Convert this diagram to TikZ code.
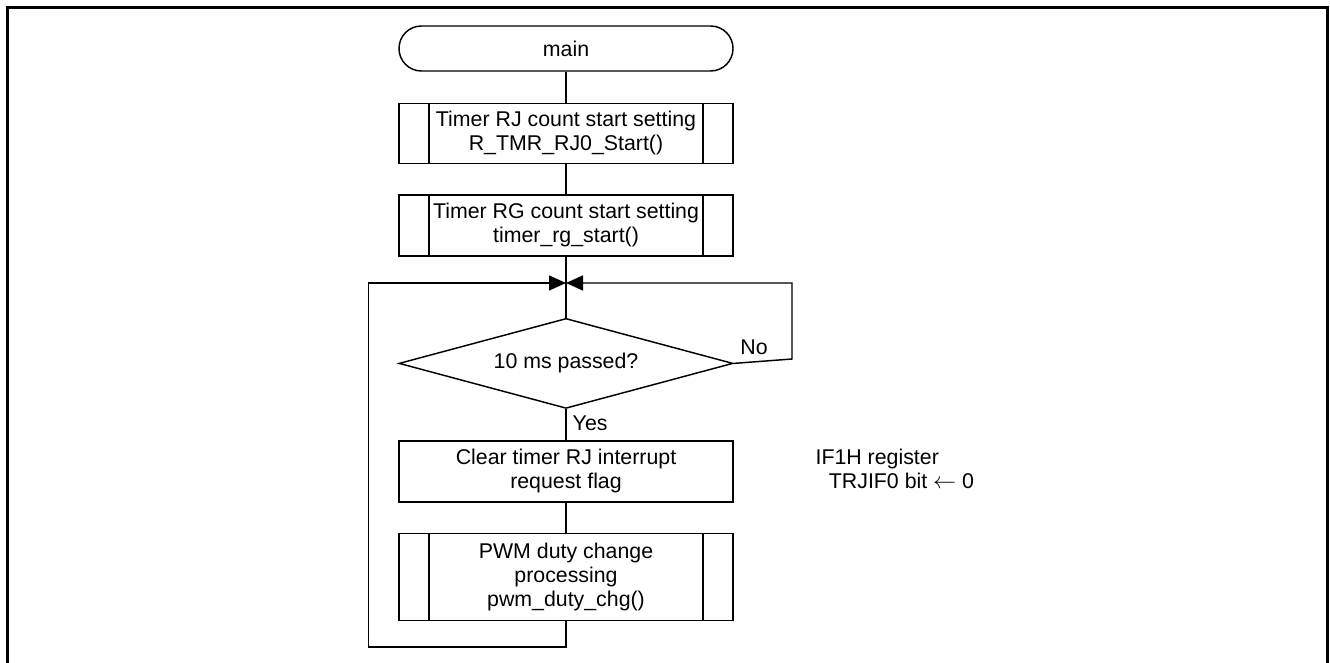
\documentclass[tikz,border=0pt]{standalone}
\usepackage{fontspec}
\setmainfont{Liberation Sans}
\usetikzlibrary{positioning}
\usetikzlibrary{shapes.geometric}
\usetikzlibrary{arrows.meta}

\begin{document}
\begin{tikzpicture}[
  x=0.75pt, y=-0.75pt,
  font=\fontsize{16}{18}\selectfont,
  line width=1.1pt,
  terminal/.style={draw, rounded corners=16.8pt, minimum width=250.5pt, minimum height=33.75pt, inner sep=0pt},
  proc/.style={draw, align=center, minimum width=250.5pt, minimum height=45.75pt, inner sep=0pt},
  subproc/.style={proc, path picture={
      \draw ([xshift=22.5pt]path picture bounding box.north west) -- ([xshift=22.5pt]path picture bounding box.south west);
      \draw ([xshift=-22.5pt]path picture bounding box.north east) -- ([xshift=-22.5pt]path picture bounding box.south east);}},
  decision/.style={draw, diamond, aspect=3.7, minimum width=250.5pt, minimum height=67.5pt, inner sep=0pt},
  back/.style={-{Triangle[length=12.75pt, width=11.25pt]}}
]
\useasboundingbox (0,0) rectangle (1330,663);

% Frame
\draw[line width=2.25pt] (7,7.5) rectangle (1327.5,700);

% Start
\node[terminal] (main) at (566,48.5) {main};

% Count start settings
\node[subproc, minimum height=45pt, below=23.25pt of main] (rjstart) {Timer RJ count start setting\\R\_TMR\_RJ0\_Start()};
\node[subproc, below=22.5pt of rjstart] (rgstart) {Timer RG count start setting\\timer\_rg\_start()};

% Wait for 10 ms
\coordinate (join) at (566,283);
\node[decision, below=45.75pt of rgstart] (wait) {10 ms passed?};
\node[anchor=base west, inner sep=0pt] (no) at ([xshift=4.5pt, yshift=6.75pt]wait.east) {No};
\node[anchor=base west, inner sep=0pt] (yes) at ([xshift=4.5pt, yshift=-15.75pt]wait.south) {Yes};
\coordinate (nocorner) at (792,359);

% Flag clear
\node[proc, below=23.25pt of wait] (clrflag) {Clear timer RJ interrupt\\request flag};
\node[align=left, right=57.5pt of clrflag, yshift=1.5pt] (note) {IF1H register\\\hspace{10pt}TRJIF0 bit $\leftarrow$ 0};

% Duty change
\node[subproc, minimum height=65.25pt, below=22.5pt of clrflag] (duty) {PWM duty change\\processing\\pwm\_duty\_chg()};
\coordinate (loopcorner) at (368.5,647);

% Edges
\draw (main) -- (rjstart);
\draw (rjstart) -- (rgstart);
\draw (rgstart) -- (join) -- (wait);
\draw (wait) -- (clrflag);
\draw (clrflag) -- (duty);
\draw[back] (wait.east) -- (nocorner) |- (join);
\draw[back] (duty.south) |- (loopcorner) |- (join);
\end{tikzpicture}
\end{document}
